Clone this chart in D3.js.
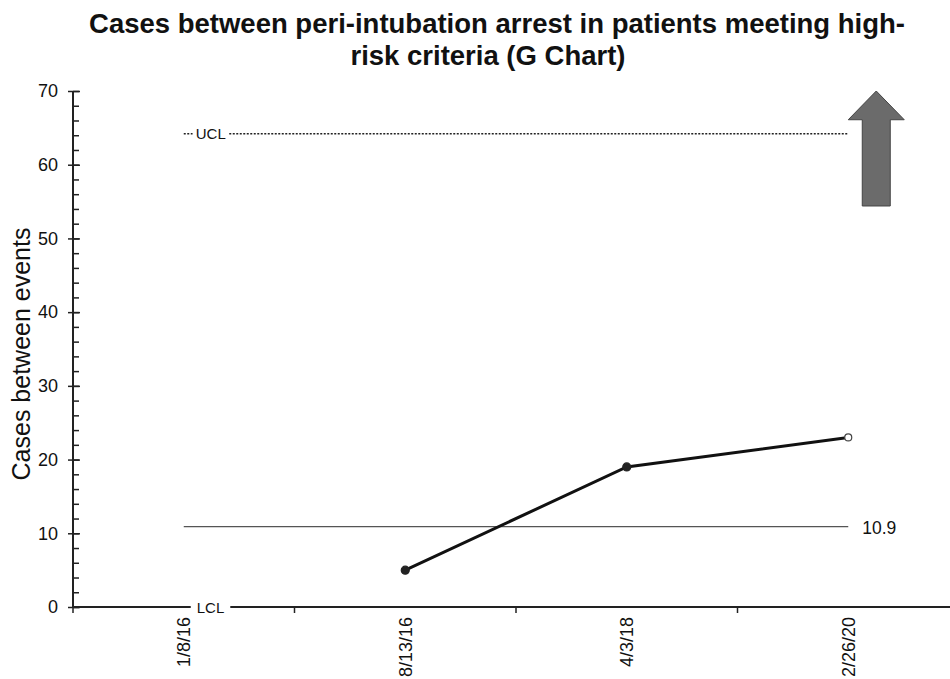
<!DOCTYPE html>
<html>
<head>
<meta charset="utf-8">
<script src="https://cdn.jsdelivr.net/npm/d3@7"></script>
<style>
  html, body { margin: 0; padding: 0; background: #fff; }
  svg { display: block; font-family: "Liberation Sans", Arial, sans-serif; }
</style>
</head>
<body>
<svg id="chart" width="950" height="679"></svg>
<script>
// ---- data ----
const categories = ["1/8/16", "8/13/16", "4/3/18", "2/26/20"];
const values = [null, 5, 19, 23];
const centerLine = 10.9;
const ucl = 64.2;
const lcl = 0;
const yMajorTicks = [0, 10, 20, 30, 40, 50, 60, 70];
const yMinorTicks = d3.range(0, 71, 2);
const titleLines = ["Cases between peri-intubation arrest in patients meeting high-", "risk criteria (G Chart)"];
const yLabel = "Cases between events";

(function () {
// ---- layout ----
const svg = d3.select("#chart");
const mLeft = 73, mRight = 959, mTop = 91, mBottom = 607;

const x = d3.scaleBand().domain(categories).range([mLeft, mRight]).padding(0);
const y = d3.scaleLinear().domain([0, 70]).range([mBottom, mTop]);
const cx = c => x(c) + x.bandwidth() / 2;

// title
svg.append("g").selectAll("text").data(titleLines).join("text")
  .attr("x", (d, i) => i === 0 ? 497 : 488)
  .attr("y", (d, i) => 33 + i * 32)
  .attr("text-anchor", "middle")
  .attr("font-size", 27.5)
  .attr("font-weight", "bold")
  .attr("fill", "#111")
  .text(d => d);

// y axis label
svg.append("text")
  .attr("transform", `translate(30, 354) rotate(-90)`)
  .attr("text-anchor", "middle")
  .attr("font-size", 25)
  .attr("fill", "#111")
  .text(yLabel);

// minor y ticks
const minorG = svg.append("g")
  .attr("transform", `translate(${mLeft},0)`)
  .call(d3.axisRight(y).tickValues(yMinorTicks).tickSize(6).tickFormat(""));
minorG.select(".domain").remove();
minorG.selectAll("line").attr("stroke", "#222").attr("stroke-width", 1.5);

// major y axis
const yAxisG = svg.append("g")
  .attr("transform", `translate(${mLeft},0)`)
  .call(d3.axisLeft(y).tickValues(yMajorTicks).tickSize(5).tickPadding(10));
yAxisG.select(".domain").attr("stroke", "#222").attr("stroke-width", 2).attr("d", `M0,${mTop}V${mBottom}`);
yAxisG.selectAll(".tick line").attr("x2", -5).attr("x1", 7).attr("stroke", "#222").attr("stroke-width", 1.5);
yAxisG.selectAll(".tick text").attr("font-size", 18).attr("fill", "#111").attr("font-family", "Liberation Sans, Arial, sans-serif");

// x axis line
svg.append("line")
  .attr("x1", mLeft).attr("x2", mRight)
  .attr("y1", y(0)).attr("y2", y(0))
  .attr("stroke", "#222").attr("stroke-width", 2);

// x boundary ticks
const boundaries = categories.map(c => x(c)).concat([x.range()[1]]);
svg.append("g").selectAll("line").data(boundaries).join("line")
  .attr("x1", d => d).attr("x2", d => d)
  .attr("y1", y(0)).attr("y2", y(0) + 6)
  .attr("stroke", "#222").attr("stroke-width", 1.5);

// x tick labels
svg.append("g").selectAll("text").data(categories).join("text")
  .attr("transform", c => `translate(${cx(c) + 6.5}, ${y(0) + 10}) rotate(-90)`)
  .attr("text-anchor", "end")
  .attr("font-size", 18)
  .attr("fill", "#111")
  .text(c => c);

const x0 = cx(categories[0]);
const x1 = cx(categories[categories.length - 1]);

// UCL dotted line
svg.append("line")
  .attr("x1", x0).attr("x2", x1)
  .attr("y1", y(ucl)).attr("y2", y(ucl))
  .attr("stroke", "#222").attr("stroke-width", 1.3)
  .attr("stroke-dasharray", "2,1.5");
const uclBg = svg.append("rect").attr("fill", "#fff");
const uclLabel = svg.append("text")
  .attr("x", x0 + 12).attr("y", y(ucl) + 5.5)
  .attr("font-size", 15).attr("fill", "#111").text("UCL");
const ub = uclLabel.node().getBBox();
uclBg.attr("x", ub.x - 3).attr("y", ub.y).attr("width", ub.width + 6).attr("height", ub.height);

// LCL label on axis
const lclBg = svg.append("rect").attr("fill", "#fff");
const lclLabel = svg.append("text")
  .attr("x", x0 + 13).attr("y", y(lcl) + 5.5)
  .attr("font-size", 15).attr("fill", "#111").text("LCL");
const lb = lclLabel.node().getBBox();
lclBg.attr("x", lb.x - 6).attr("y", lb.y).attr("width", lb.width + 12).attr("height", lb.height - 2);

// center line
svg.append("line")
  .attr("x1", x0).attr("x2", x1)
  .attr("y1", y(centerLine)).attr("y2", y(centerLine))
  .attr("stroke", "#555").attr("stroke-width", 1.3);
svg.append("text")
  .attr("x", x1 + 14).attr("y", y(centerLine) + 7.5)
  .attr("font-size", 17.5).attr("fill", "#111").text(centerLine);

// data line
const pts = categories.map((c, i) => ({ c, v: values[i] })).filter(d => d.v != null);
svg.append("path")
  .datum(pts)
  .attr("fill", "none").attr("stroke", "#111").attr("stroke-width", 3)
  .attr("d", d3.line().x(d => cx(d.c)).y(d => y(d.v)));
svg.append("g").selectAll("circle").data(pts).join("circle")
  .attr("cx", d => cx(d.c)).attr("cy", d => y(d.v))
  .attr("r", (d, i) => i === pts.length - 1 ? 3.5 : 4)
  .attr("fill", (d, i) => i === pts.length - 1 ? "#fff" : "#222")
  .attr("stroke", (d, i) => i === pts.length - 1 ? "#444" : "#222")
  .attr("stroke-width", 1.2);

// up arrow (decoration)
const ax = x1 + 28, tipY = y(70), headY = y(66.1), baseY = y(54.4);
svg.append("path")
  .attr("d", `M${ax},${tipY} L${ax + 28},${headY} L${ax + 14},${headY} L${ax + 14},${baseY} L${ax - 14},${baseY} L${ax - 14},${headY} L${ax - 28},${headY} Z`)
  .attr("fill", "#6b6b6b").attr("stroke", "#444").attr("stroke-width", 1);
})();
</script>
</body>
</html>
